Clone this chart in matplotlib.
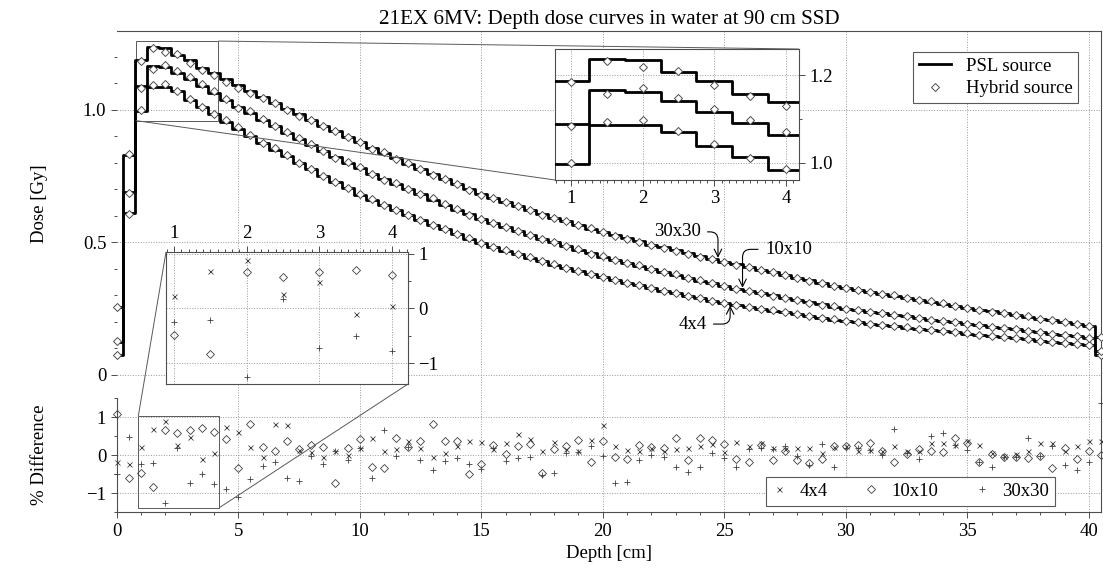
import numpy as np
import matplotlib
matplotlib.use("Agg")
import matplotlib.pyplot as plt
from matplotlib.lines import Line2D
from matplotlib.ticker import MultipleLocator, FuncFormatter
from mpl_toolkits.axes_grid1.inset_locator import mark_inset

plt.rcParams['font.family'] = ['Liberation Serif', 'DejaVu Serif']
plt.rcParams['font.size'] = 13.5

# bin centres of the scored depth dose, 0 ... 40.5 cm
depth = np.arange(0, 41, 0.5)

# PSL source dose [Gy] per bin
psl_30x30 = [0.258, 0.830, 1.187, 1.236, 1.234, 1.208, 1.187, 1.158, 1.139, 1.116,
             1.094, 1.071, 1.049, 1.027, 1.005, 0.983, 0.962, 0.940, 0.919, 0.898,
             0.878, 0.857, 0.837, 0.817, 0.797, 0.777, 0.758, 0.739, 0.720, 0.701,
             0.683, 0.668, 0.653, 0.638, 0.623, 0.608, 0.594, 0.580, 0.566, 0.552,
             0.538, 0.527, 0.515, 0.504, 0.492, 0.481, 0.470, 0.459, 0.448, 0.437,
             0.427, 0.417, 0.407, 0.397, 0.387, 0.377, 0.367, 0.357, 0.347, 0.337,
             0.327, 0.320, 0.313, 0.305, 0.298, 0.291, 0.283, 0.276, 0.269, 0.261,
             0.254, 0.247, 0.240, 0.233, 0.226, 0.220, 0.213, 0.206, 0.199, 0.192,
             0.185, 0.142]
psl_10x10 = [0.126, 0.692, 1.089, 1.166, 1.162, 1.141, 1.116, 1.090, 1.064, 1.038,
             1.012, 0.987, 0.962, 0.938, 0.914, 0.891, 0.868, 0.845, 0.823, 0.801,
             0.780, 0.760, 0.740, 0.720, 0.700, 0.681, 0.662, 0.643, 0.624, 0.606,
             0.588, 0.573, 0.558, 0.543, 0.528, 0.514, 0.500, 0.486, 0.472, 0.459,
             0.446, 0.434, 0.423, 0.412, 0.400, 0.389, 0.378, 0.367, 0.356, 0.346,
             0.335, 0.326, 0.317, 0.308, 0.300, 0.291, 0.283, 0.274, 0.266, 0.258,
             0.250, 0.244, 0.238, 0.232, 0.227, 0.221, 0.215, 0.209, 0.204, 0.198,
             0.192, 0.187, 0.182, 0.177, 0.172, 0.166, 0.161, 0.156, 0.151, 0.146,
             0.141, 0.092]
psl_4x4 = [0.075, 0.610, 0.997, 1.085, 1.087, 1.070, 1.037, 1.012, 0.984, 0.956,
           0.929, 0.902, 0.876, 0.850, 0.825, 0.800, 0.776, 0.752, 0.729, 0.704,
           0.680, 0.660, 0.641, 0.622, 0.603, 0.585, 0.567, 0.549, 0.531, 0.514,
           0.497, 0.483, 0.469, 0.455, 0.442, 0.429, 0.416, 0.404, 0.392, 0.380,
           0.368, 0.358, 0.348, 0.338, 0.328, 0.318, 0.308, 0.298, 0.289, 0.280,
           0.271, 0.264, 0.257, 0.250, 0.243, 0.236, 0.229, 0.222, 0.216, 0.209,
           0.203, 0.198, 0.193, 0.188, 0.184, 0.179, 0.174, 0.170, 0.165, 0.161,
           0.156, 0.152, 0.147, 0.143, 0.138, 0.134, 0.129, 0.125, 0.121, 0.116,
           0.112, 0.074]

# % difference hybrid vs PSL per bin
diff_4x4 = [-0.17, -0.24, 0.22, 0.68, 0.89, 0.27, 0.48, -0.10, 0.05, 0.74,
            0.60, 0.21, -0.04, 0.83, 0.80, 0.14, 0.07, -0.06, 0.12, 0.00,
            0.20, 0.44, 0.10, 0.16, 0.38, 0.18, -0.06, 0.06, 0.25, 0.36,
            0.35, 0.16, 0.33, 0.56, 0.42, 0.11, 0.34, 0.15, 0.12, 0.40,
            0.79, 0.25, 0.14, 0.10, 0.20, 0.11, 0.17, 0.20, 0.24, 0.29,
            0.09, 0.34, 0.23, 0.31, 0.20, 0.17, 0.18, 0.18, 0.05, 0.22,
            0.24, 0.11, 0.14, 0.10, 0.23, 0.11, 0.10, 0.31, 0.31, 0.27,
            0.36, 0.27, 0.05, -0.02, 0.03, 0.10, 0.31, 0.31, 0.11, 0.24,
            0.38, 0.38]
diff_10x10 = [1.09, -0.59, -0.48, -0.84, 0.66, 0.57, 0.66, 0.71, 0.61, 0.43,
              -0.33, 0.81, 0.21, 0.12, 0.38, 0.16, 0.27, 0.22, -0.72, 0.18,
              0.43, -0.30, -0.34, 0.45, 0.22, 0.38, 0.83, 0.38, 0.38, -0.49,
              -0.22, 0.27, 0.03, 0.23, 0.29, -0.48, 0.17, 0.23, 0.39, -0.18,
              0.36, -0.05, -0.09, 0.26, 0.22, 0.20, 0.46, -0.12, 0.46, 0.41,
              0.29, -0.10, -0.19, 0.27, -0.12, 0.12, -0.14, -0.21, -0.10, 0.24,
              0.24, 0.27, 0.31, 0.12, -0.19, 0.02, 0.16, 0.10, 0.09, 0.44,
              0.31, -0.17, 0.03, -0.05, -0.05, -0.08, -0.02, -0.34, 0.18, -0.11,
              0.10, 0.00]
diff_30x30 = [-0.50, 0.47, -0.24, -0.21, -1.25, 0.18, -0.73, -0.50, -0.77, -0.89,
              -1.11, -0.63, -0.28, -0.17, -0.61, -0.69, -0.02, -0.24, 0.12, -0.12,
              0.18, -0.61, 0.66, -0.02, 0.22, -0.14, -0.39, -0.16, -0.07, -0.24,
              -0.36, 0.18, -0.15, -0.08, -0.05, -0.52, -0.47, 0.05, 0.07, 0.23,
              -0.02, -0.72, -0.71, -0.14, 0.00, -0.06, -0.32, -0.44, -0.32, 0.05,
              -0.08, -0.32, 0.17, 0.18, 0.16, 0.23, -0.02, -0.26, 0.29, -0.32,
              0.20, 0.18, 0.14, 0.00, 0.68, 0.05, -0.11, 0.51, 0.59, 0.26,
              0.13, -0.17, -0.30, -0.04, -0.05, 0.46, -0.02, 0.25, -0.26, -0.40,
              -0.19, 1.38]

fields = ["4x4", "10x10", "30x30"]
psl = [psl_4x4, psl_10x10, psl_30x30]
diffs = [diff_4x4, diff_10x10, diff_30x30]
diff_markers = {"4x4": "x", "10x10": "D", "30x30": "+"}
diff_sizes = {"4x4": 3.6, "10x10": 3.6, "30x30": 5}

fig = plt.figure(figsize=(11.03, 5.74), dpi=100)
ax1 = fig.add_axes([0.1058, 0.3066, 0.8924, 0.6394])
ax2 = fig.add_axes([0.1058, 0.1075, 0.8924, 0.1991], sharex=ax1)

spine_col = "0.3"
grid_kw = dict(linestyle=":", color="0.6", linewidth=0.7)


def style_axes(ax, xgrid=True):
    for s in ax.spines.values():
        s.set_color(spine_col)
        s.set_linewidth(0.8)
    ax.tick_params(which="both", direction="out", color=spine_col, width=0.7)
    ax.tick_params(which="major", length=4)
    ax.tick_params(which="minor", length=2.5)
    ax.grid(True, which="major", axis="both" if xgrid else "y", **grid_kw)
    ax.set_axisbelow(True)


def draw_dose(ax):
    for p, d in zip(psl, diffs):
        p = np.array(p)
        hyb = p * (1 + np.array(d) / 100.0)
        ax.step(depth, p, where="mid", color="k", lw=2, zorder=3)
        ax.plot(depth, hyb, ls="none", marker="D", ms=3.6, mfc="white",
                mec="0.3", mew=0.7, zorder=4, clip_on=False)


def draw_diff(ax):
    for f, d in zip(fields, diffs):
        m = diff_markers[f]
        ax.plot(depth, d, ls="none", marker=m, ms=diff_sizes[f],
                mfc="none", mec="0.25", mew=0.6, color="0.25",
                zorder=3, clip_on=False)


# ---- bottom panel: % difference (set first, top panel shares its x ticks)
draw_diff(ax2)
style_axes(ax2)
ax2.set_xlim(0, 40.5)
ax2.set_ylim(-1.5, 1.5)
ax2.spines["top"].set_visible(False)
ax2.xaxis.set_major_locator(MultipleLocator(5))
ax2.xaxis.set_minor_locator(MultipleLocator(1))
ax2.yaxis.set_major_locator(MultipleLocator(1))
ax2.yaxis.set_minor_locator(MultipleLocator(0.5))
ax2.set_xlabel("Depth [cm]")
ax2.set_ylabel("% Difference")
ax2.yaxis.set_label_coords(-0.07, 0.5)

leg2 = ax2.legend([Line2D([], [], ls="none", marker=diff_markers[f], ms=diff_sizes[f],
                          mfc="none", mec="0.25", mew=0.6) for f in fields],
                  fields, ncol=3, loc="lower right", bbox_to_anchor=(0.953, 0.058),
                  borderaxespad=0, fancybox=False, edgecolor="0.35", framealpha=1,
                  handlelength=0.8, handletextpad=0.7, columnspacing=1.9, borderpad=0.3)
leg2.get_frame().set_linewidth(0.8)

# ---- top panel: depth dose
draw_dose(ax1)
style_axes(ax1, xgrid=False)
ax1.set_ylim(-0.087, 1.298)
for xv in ax2.get_xticks():
    if 0 < xv <= 40:
        ax1.axvline(xv, zorder=0.5, **grid_kw)
ax1.yaxis.set_major_locator(MultipleLocator(0.5))
ax1.yaxis.set_minor_locator(MultipleLocator(0.1))
ax1.yaxis.set_major_formatter(FuncFormatter(lambda v, _: "0" if abs(v) < 1e-9 else f"{v:.1f}"))
ax1.tick_params(axis="x", which="both", bottom=False, labelbottom=False)
ax1.spines["bottom"].set_visible(False)
ax1.spines["left"].set_visible(False)
ax1.set_ylabel("Dose [Gy]")
ax1.yaxis.set_label_coords(-0.07, 0.53)
ax1.set_title("21EX 6MV: Depth dose curves in water at 90 cm SSD", fontsize=15.2, pad=5)

leg1 = ax1.legend([Line2D([], [], color="k", lw=2),
                   Line2D([], [], ls="none", marker="D", ms=3.6, mfc="white", mec="0.3", mew=0.7)],
                  ["PSL source", "Hybrid source"],
                  loc="upper right", bbox_to_anchor=(0.9766, 0.9428), borderaxespad=0,
                  fancybox=False, edgecolor="0.35", framealpha=1, handlelength=1.7,
                  borderpad=0.3, labelspacing=0.3)
leg1.get_frame().set_linewidth(0.8)

arrow = dict(arrowstyle="->,head_length=0.4,head_width=0.2", color="k", lw=0.8,
             shrinkA=3, shrinkB=0)
ax1.annotate("30x30", xy=(24.74, 0.442), xytext=(23.06, 0.540), ha="center", va="center",
             arrowprops=dict(arrow, connectionstyle="angle,angleA=0,angleB=90,rad=8"))
ax1.annotate("10x10", xy=(25.75, 0.329), xytext=(27.64, 0.474), ha="center", va="center",
             arrowprops=dict(arrow, connectionstyle="angle,angleA=0,angleB=90,rad=8"))
ax1.annotate("4x4", xy=(25.24, 0.262), xytext=(23.69, 0.192), ha="center", va="center",
             arrowprops=dict(arrow, connectionstyle="angle,angleA=0,angleB=90,rad=8"))

# ---- zoom on the build-up region of the dose
ins1 = fig.add_axes([0.5032, 0.6864, 0.2212, 0.2282])
draw_dose(ins1)
style_axes(ins1)
ins1.set_xlim(0.78, 4.18)
ins1.set_ylim(0.96, 1.26)
ins1.xaxis.set_major_locator(MultipleLocator(1))
ins1.xaxis.set_minor_locator(MultipleLocator(0.1))
ins1.yaxis.set_major_locator(MultipleLocator(0.2))
ins1.yaxis.set_minor_locator(MultipleLocator(0.1))
ins1.yaxis.set_major_formatter(FuncFormatter(lambda v, _: f"{v:.1f}"))
ins1.tick_params(axis="y", left=False, labelleft=False, right=True, labelright=True, which="both")
for c in ins1.get_children():
    if isinstance(c, Line2D):
        c.set_clip_on(True)
mark_inset(ax1, ins1, loc1=1, loc2=3, fc="none", ec="0.35", lw=0.7)

# ---- zoom on the build-up region of the difference
ins2 = fig.add_axes([0.1505, 0.331, 0.2194, 0.23])
draw_diff(ins2)
style_axes(ins2)
ins2.set_xlim(0.89, 4.22)
ins2.set_ylim(-1.38, 1.03)
ins2.xaxis.set_major_locator(MultipleLocator(1))
ins2.xaxis.set_minor_locator(MultipleLocator(0.1))
ins2.yaxis.set_major_locator(MultipleLocator(1))
ins2.yaxis.set_minor_locator(MultipleLocator(0.5))
ins2.tick_params(axis="x", which="both", bottom=False, labelbottom=False, top=True, labeltop=True)
ins2.tick_params(axis="y", which="both", left=False, labelleft=False, right=True, labelright=True)
for c in ins2.get_children():
    if isinstance(c, Line2D):
        c.set_clip_on(True)
mark_inset(ax2, ins2, loc1=2, loc2=4, fc="none", ec="0.35", lw=0.7)

fig.savefig("out.png", dpi=100)
